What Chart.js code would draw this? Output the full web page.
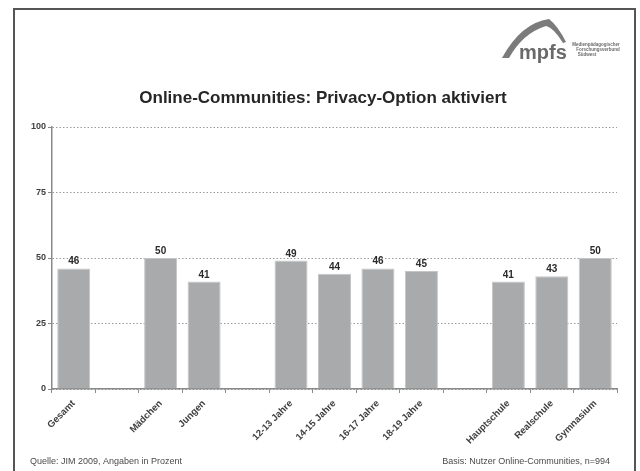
<!DOCTYPE html>
<html>
<head>
<meta charset="utf-8">
<script src="https://cdn.jsdelivr.net/npm/chart.js@4.4.1/dist/chart.umd.min.js"></script>
<style>
  html, body { margin: 0; padding: 0; background: #fff; }
  #wrap { width: 640px; height: 471px; position: relative; }
</style>
</head>
<body>
<div id="wrap"><canvas id="chart"></canvas></div>
<script>
// Chart data
const categories = ['Gesamt', '', 'Mädchen', 'Jungen', '', '12-13 Jahre', '14-15 Jahre', '16-17 Jahre', '18-19 Jahre', '', 'Hauptschule', 'Realschule', 'Gymnasium'];
const values = [46, null, 50, 41, null, 49, 44, 46, 45, null, 41, 43, 50];
const yTicks = [0, 25, 50, 75, 100];

const chartTitle = 'Online-Communities: Privacy-Option aktiviert';
const sourceNote = 'Quelle: JIM 2009, Angaben in Prozent';
const baseNote = 'Basis: Nutzer Online-Communities, n=994';
const logoText = 'mpfs';
const logoLines = ['Medienpädagogischer', 'Forschungsverbund', 'Südwest'];

const FONT = '"Liberation Sans", Arial, sans-serif';

// Frame, title, logo and footer texts
const decoPlugin = {
    id: 'deco',
    beforeDraw(chart) {
        const ctx = chart.ctx;
        ctx.save();
        ctx.fillStyle = '#ffffff';
        ctx.fillRect(0, 0, chart.width, chart.height);

        // frame
        ctx.strokeStyle = '#555555';
        ctx.lineWidth = 2;
        ctx.beginPath();
        ctx.moveTo(14, chart.height + 5);
        ctx.lineTo(14, 9);
        ctx.lineTo(635, 9);
        ctx.lineTo(635, chart.height + 5);
        ctx.stroke();

        // title
        ctx.fillStyle = '#262626';
        ctx.font = 'bold 17px ' + FONT;
        ctx.textAlign = 'center';
        ctx.textBaseline = 'alphabetic';
        ctx.fillText(chartTitle, 323, 103);

        // logo swoosh
        ctx.fillStyle = '#7b7b7b';
        ctx.beginPath();
        ctx.moveTo(502, 58);
        ctx.quadraticCurveTo(521, 23, 549, 19);
        ctx.quadraticCurveTo(558, 26, 566, 42);
        ctx.lineTo(563, 43);
        ctx.quadraticCurveTo(554, 28, 546, 26);
        ctx.quadraticCurveTo(523, 33, 509, 58);
        ctx.closePath();
        ctx.fill();

        ctx.fillStyle = '#6a6a6a';
        ctx.font = 'bold 20px ' + FONT;
        ctx.textAlign = 'left';
        ctx.fillText(logoText, 519, 59);

        ctx.font = 'bold 4.5px ' + FONT;
        ctx.textAlign = 'center';
        ctx.fillText(logoLines[0], 596, 46);
        ctx.fillText(logoLines[1], 598, 51);
        ctx.fillText(logoLines[2], 587, 56);

        // footer
        ctx.fillStyle = '#4a4a4a';
        ctx.font = '9px ' + FONT;
        ctx.textBaseline = 'middle';
        ctx.textAlign = 'left';
        ctx.fillText(sourceNote, 30, 462);
        ctx.textAlign = 'right';
        ctx.fillText(baseNote, 610, 462);
        ctx.restore();
    }
};

// Value labels above the bars
const valueLabels = {
    id: 'valueLabels',
    afterDatasetsDraw(chart) {
        const ctx = chart.ctx;
        const meta = chart.getDatasetMeta(0);
        ctx.save();
        ctx.fillStyle = '#2b2b2b';
        ctx.font = 'bold 10px ' + FONT;
        ctx.textAlign = 'center';
        ctx.textBaseline = 'alphabetic';
        meta.data.forEach((bar, i) => {
            if (values[i] === null) return;
            ctx.fillText(String(values[i]), bar.x, bar.y - 4);
        });
        ctx.restore();
    }
};

const ctx = document.getElementById('chart').getContext('2d');
new Chart(ctx, {
    type: 'bar',
    data: {
        labels: categories,
        datasets: [{
            data: values,
            backgroundColor: '#a9aaac',
            borderColor: '#c4c5c7',
            borderWidth: 1,
            categoryPercentage: 0.76,
            barPercentage: 1
        }]
    },
    options: {
        responsive: true,
        maintainAspectRatio: false,
        animation: false,
        layout: {
            padding: { left: 0, top: 127, right: 23, bottom: 20 }
        },
        plugins: {
            legend: { display: false },
            title: { display: false },
            tooltip: { enabled: false }
        },
        scales: {
            x: {
                afterFit(scale) { scale.height = 62; },
                grid: {
                    offset: true,
                    drawOnChartArea: false,
                    drawTicks: true,
                    tickLength: 4,
                    color: '#8a8a8a',
                    lineWidth: 1
                },
                border: { color: '#8a8a8a', width: 1.5 },
                ticks: {
                    autoSkip: false,
                    minRotation: 45,
                    maxRotation: 45,
                    padding: 5,
                    color: '#404040',
                    font: { family: FONT, size: 9.5, weight: 'bold' }
                }
            },
            y: {
                min: 0,
                max: 100,
                afterFit(scale) { scale.width = 52; },
                afterBuildTicks(scale) {
                    scale.ticks = yTicks.map(v => ({ value: v }));
                },
                grid: {
                    color: '#9a9a9a',
                    lineWidth: 1,
                    tickLength: 4,
                    tickBorderDash: [],
                    tickColor: '#8a8a8a'
                },
                border: { color: '#8a8a8a', width: 1.5, dash: [1.5, 2] },
                ticks: {
                    padding: 2,
                    color: '#404040',
                    font: { family: FONT, size: 9, weight: 'bold' }
                }
            }
        }
    },
    plugins: [decoPlugin, valueLabels]
});
</script>
</body>
</html>
